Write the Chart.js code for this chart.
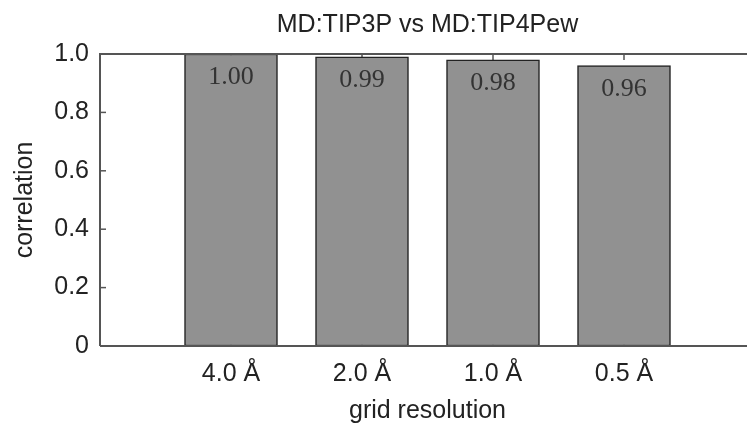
<!DOCTYPE html>
<html>
<head>
<meta charset="utf-8">
<script src="https://cdn.jsdelivr.net/npm/chart.js@4.4.0/dist/chart.umd.min.js"></script>
<style>
html,body{margin:0;padding:0;background:#fff;overflow:hidden;}
#wrap{width:755px;height:426px;position:relative;overflow:visible;}
canvas{display:block;}
</style>
</head>
<body>
<div id="wrap"><canvas id="c" width="755" height="426" style="width:755px;height:426px;"></canvas></div>
<script>
const categories = ['', '4.0 Å', '2.0 Å', '1.0 Å', '0.5 Å', ''];
const correlation = [null, 1.00, 0.99, 0.98, 0.96, null];
const valueLabels = ['', '1.00', '0.99', '0.98', '0.96', ''];
const yTicks = [0, 0.2, 0.4, 0.6, 0.8, 1.0];

const axisColor = '#555';
const textColor = '#222';
const sans = '"Liberation Sans", Arial, sans-serif';

const framePlugin = {
  id: 'frame',
  beforeDatasetsDraw(chart) {
    const {ctx, chartArea: a, scales} = chart;
    ctx.save();
    ctx.strokeStyle = axisColor;
    ctx.lineWidth = 1.5;
    yTicks.forEach(v => {
      const y = scales.y.getPixelForValue(v);
      ctx.beginPath(); ctx.moveTo(a.left, y); ctx.lineTo(a.left + 6, y); ctx.stroke();
    });
    categories.forEach((c, i) => {
      if (!c) return;
      const x = scales.x.getPixelForValue(i);
      ctx.beginPath(); ctx.moveTo(x, a.top); ctx.lineTo(x, a.top + 6); ctx.stroke();
      ctx.beginPath(); ctx.moveTo(x, a.bottom); ctx.lineTo(x, a.bottom - 6); ctx.stroke();
    });
    ctx.restore();
  },
  afterDatasetsDraw(chart) {
    const {ctx, chartArea: a, scales} = chart;
    ctx.save();
    ctx.strokeStyle = axisColor;
    ctx.lineWidth = 2;
    ctx.beginPath();
    ctx.moveTo(a.left, a.bottom); ctx.lineTo(a.left, a.top); ctx.lineTo(a.right, a.top);
    ctx.moveTo(a.left, a.bottom); ctx.lineTo(a.right, a.bottom);
    ctx.stroke();
    ctx.fillStyle = '#333';
    ctx.font = '26px "Liberation Serif", "Times New Roman", serif';
    ctx.textAlign = 'center';
    ctx.textBaseline = 'middle';
    correlation.forEach((v, i) => {
      if (v === null) return;
      const x = scales.x.getPixelForValue(i);
      const y = scales.y.getPixelForValue(v);
      ctx.fillText(valueLabels[i], x, y + 23);
    });
    ctx.restore();
  }
};

new Chart(document.getElementById('c'), {
  type: 'bar',
  data: {
    labels: categories,
    datasets: [{
      data: correlation,
      backgroundColor: '#919191',
      borderColor: '#222',
      borderWidth: 1.5,
      borderSkipped: false,
      barThickness: 93
    }]
  },
  options: {
    responsive: false,
    devicePixelRatio: 1,
    animation: false,
    layout: {padding: 0},
    plugins: {
      legend: {display: false},
      tooltip: {enabled: false},
      title: {
        display: true,
        fullSize: false,
        text: 'MD:TIP3P vs MD:TIP4Pew',
        color: textColor,
        font: {family: sans, size: 25, weight: 'normal', lineHeight: 1.2},
        padding: {top: 10, bottom: 14}
      }
    },
    scales: {
      x: {
        type: 'category',
        offset: false,
        afterFit(axis) { axis.height = 80; axis.paddingLeft = 0; axis.paddingRight = 0; },
        grid: {display: false, drawTicks: false},
        border: {display: false},
        ticks: {
          color: textColor,
          font: {family: sans, size: 25},
          padding: 13,
          maxRotation: 0,
          autoSkip: false
        },
        title: {
          display: true,
          text: 'grid resolution',
          color: textColor,
          font: {family: sans, size: 25},
          padding: {top: 0, bottom: 0}
        }
      },
      y: {
        min: 0,
        max: 1,
        afterFit(axis) { axis.width = 100; axis.paddingTop = 0; axis.paddingBottom = 0; },
        grid: {display: false, drawTicks: false},
        border: {display: false},
        afterBuildTicks(axis) { axis.ticks = yTicks.map(v => ({value: v})); },
        ticks: {
          color: textColor,
          font: {family: sans, size: 25},
          padding: 11,
          callback: v => v === 0 ? '0' : v.toFixed(1)
        },
        title: {
          display: true,
          text: 'correlation',
          color: textColor,
          font: {family: sans, size: 25},
          padding: {top: 10, bottom: 0}
        }
      }
    }
  },
  plugins: [framePlugin]
});
</script>
</body>
</html>
